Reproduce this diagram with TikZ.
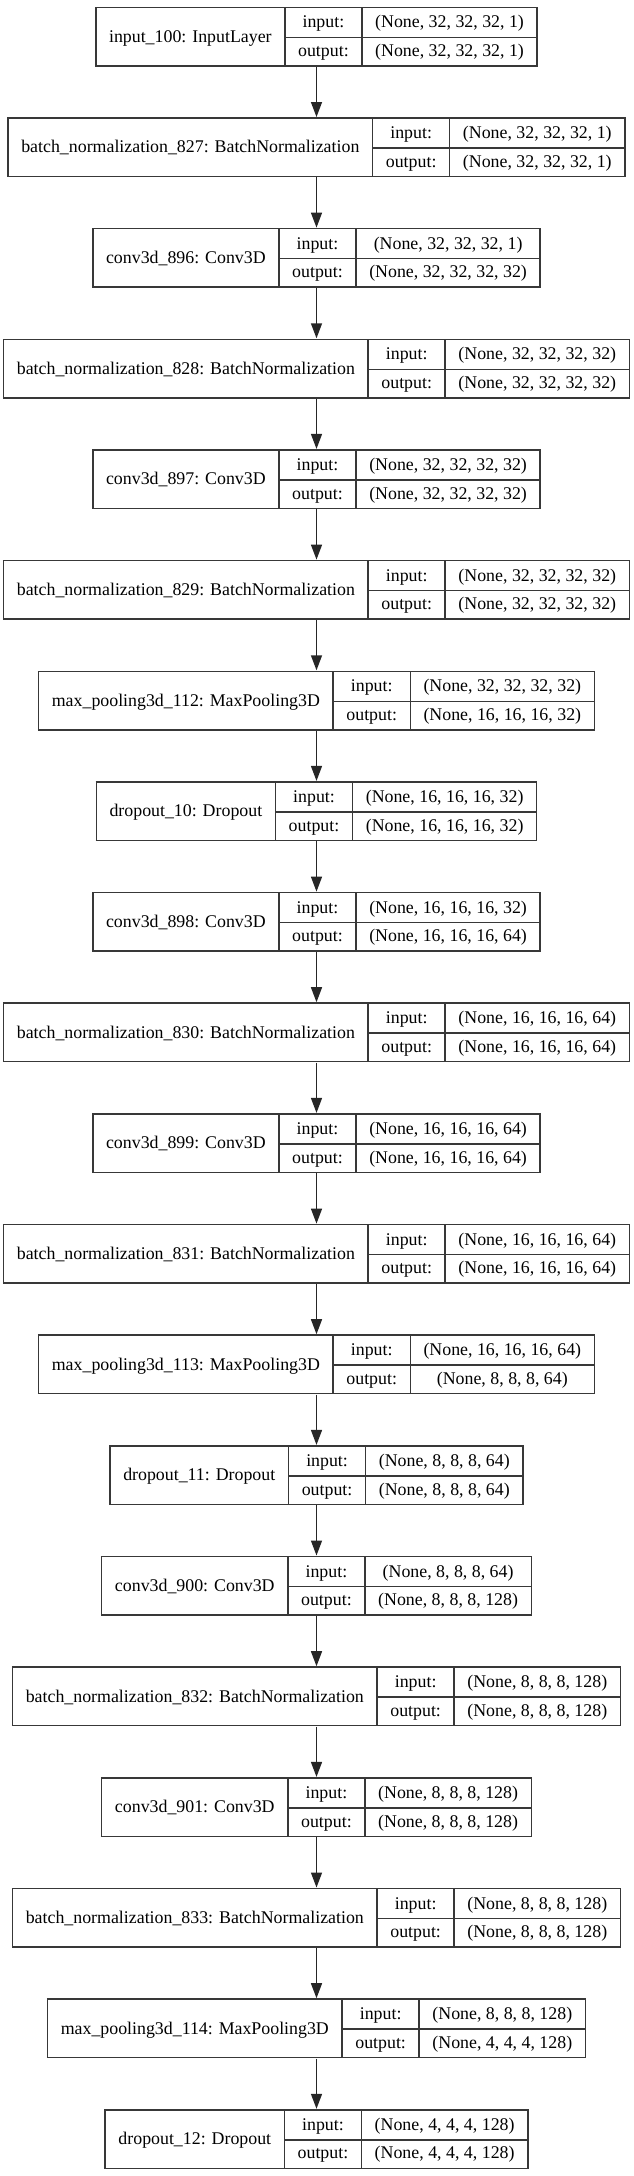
\documentclass[tikz,border=0pt]{standalone}
\usepackage{fontspec}
\setmainfont{Liberation Serif}
\usepackage{multirow}
\usepackage{colortbl}
\usepackage{tikz}
\usetikzlibrary{arrows.meta}

\setlength{\tabcolsep}{12.5pt}
\setlength{\arrayrulewidth}{1.5pt}
\arrayrulecolor{black!78}
\newcommand{\layerrec}[3]{%
  \begin{tabular}{|c|c|c|}\hline
  \multirow{2}{*}{#1} & input: & #2\\\cline{2-3}
   & output: & #3\\\hline
  \end{tabular}}

\begin{document}
\begin{tikzpicture}[x=1pt,y=1pt,
    layer/.style={inner sep=0pt,font=\fontsize{17.85pt}{28.5pt}\selectfont},
    flow/.style={line width=1.4pt,black!85,-{Triangle[length=15pt,width=11pt]}}]
    \useasboundingbox (0,0) rectangle (633,-2176);
    \node[layer] (inp100) at (316.5,-36.5) {\layerrec{input\_100: InputLayer}{(None, 32, 32, 32, 1)}{(None, 32, 32, 32, 1)}};
    \node[layer] (bn827) at (316.5,-147.2) {\layerrec{batch\_normalization\_827: BatchNormalization}{(None, 32, 32, 32, 1)}{(None, 32, 32, 32, 1)}};
    \node[layer] (conv896) at (316.5,-257.8) {\layerrec{conv3d\_896: Conv3D}{(None, 32, 32, 32, 1)}{(None, 32, 32, 32, 32)}};
    \node[layer] (bn828) at (316.5,-368.5) {\layerrec{batch\_normalization\_828: BatchNormalization}{(None, 32, 32, 32, 32)}{(None, 32, 32, 32, 32)}};
    \node[layer] (conv897) at (316.5,-479.1) {\layerrec{conv3d\_897: Conv3D}{(None, 32, 32, 32, 32)}{(None, 32, 32, 32, 32)}};
    \node[layer] (bn829) at (316.5,-589.8) {\layerrec{batch\_normalization\_829: BatchNormalization}{(None, 32, 32, 32, 32)}{(None, 32, 32, 32, 32)}};
    \node[layer] (pool112) at (316.5,-700.5) {\layerrec{max\_pooling3d\_112: MaxPooling3D}{(None, 32, 32, 32, 32)}{(None, 16, 16, 16, 32)}};
    \node[layer] (drop10) at (316.5,-811.1) {\layerrec{dropout\_10: Dropout}{(None, 16, 16, 16, 32)}{(None, 16, 16, 16, 32)}};
    \node[layer] (conv898) at (316.5,-921.8) {\layerrec{conv3d\_898: Conv3D}{(None, 16, 16, 16, 32)}{(None, 16, 16, 16, 64)}};
    \node[layer] (bn830) at (316.5,-1032.4) {\layerrec{batch\_normalization\_830: BatchNormalization}{(None, 16, 16, 16, 64)}{(None, 16, 16, 16, 64)}};
    \node[layer] (conv899) at (316.5,-1143.1) {\layerrec{conv3d\_899: Conv3D}{(None, 16, 16, 16, 64)}{(None, 16, 16, 16, 64)}};
    \node[layer] (bn831) at (316.5,-1253.8) {\layerrec{batch\_normalization\_831: BatchNormalization}{(None, 16, 16, 16, 64)}{(None, 16, 16, 16, 64)}};
    \node[layer] (pool113) at (316.5,-1364.4) {\layerrec{max\_pooling3d\_113: MaxPooling3D}{(None, 16, 16, 16, 64)}{(None, 8, 8, 8, 64)}};
    \node[layer] (drop11) at (316.5,-1475.1) {\layerrec{dropout\_11: Dropout}{(None, 8, 8, 8, 64)}{(None, 8, 8, 8, 64)}};
    \node[layer] (conv900) at (316.5,-1585.7) {\layerrec{conv3d\_900: Conv3D}{(None, 8, 8, 8, 64)}{(None, 8, 8, 8, 128)}};
    \node[layer] (bn832) at (316.5,-1696.4) {\layerrec{batch\_normalization\_832: BatchNormalization}{(None, 8, 8, 8, 128)}{(None, 8, 8, 8, 128)}};
    \node[layer] (conv901) at (316.5,-1807.1) {\layerrec{conv3d\_901: Conv3D}{(None, 8, 8, 8, 128)}{(None, 8, 8, 8, 128)}};
    \node[layer] (bn833) at (316.5,-1917.7) {\layerrec{batch\_normalization\_833: BatchNormalization}{(None, 8, 8, 8, 128)}{(None, 8, 8, 8, 128)}};
    \node[layer] (pool114) at (316.5,-2028.4) {\layerrec{max\_pooling3d\_114: MaxPooling3D}{(None, 8, 8, 8, 128)}{(None, 4, 4, 4, 128)}};
    \node[layer] (drop12) at (316.5,-2139.0) {\layerrec{dropout\_12: Dropout}{(None, 4, 4, 4, 128)}{(None, 4, 4, 4, 128)}};
    \draw[flow] (inp100) -- (bn827);
    \draw[flow] (bn827) -- (conv896);
    \draw[flow] (conv896) -- (bn828);
    \draw[flow] (bn828) -- (conv897);
    \draw[flow] (conv897) -- (bn829);
    \draw[flow] (bn829) -- (pool112);
    \draw[flow] (pool112) -- (drop10);
    \draw[flow] (drop10) -- (conv898);
    \draw[flow] (conv898) -- (bn830);
    \draw[flow] (bn830) -- (conv899);
    \draw[flow] (conv899) -- (bn831);
    \draw[flow] (bn831) -- (pool113);
    \draw[flow] (pool113) -- (drop11);
    \draw[flow] (drop11) -- (conv900);
    \draw[flow] (conv900) -- (bn832);
    \draw[flow] (bn832) -- (conv901);
    \draw[flow] (conv901) -- (bn833);
    \draw[flow] (bn833) -- (pool114);
    \draw[flow] (pool114) -- (drop12);
\end{tikzpicture}
\end{document}
